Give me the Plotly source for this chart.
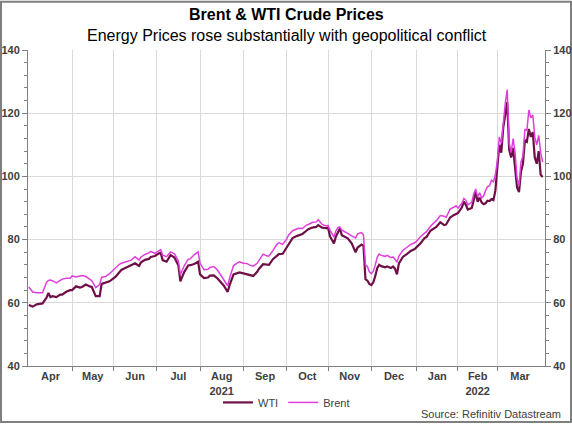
import numpy as np
import plotly.graph_objects as go

title = "Brent & WTI Crude Prices"
subtitle = "Energy Prices rose substantially with geopolitical conflict"
source = "Source: Refinitiv Datastream"

dates = [
    "2021-04-01", "2021-04-05", "2021-04-07", "2021-04-09", "2021-04-12", "2021-04-14", "2021-04-15", "2021-04-16",
    "2021-04-19", "2021-04-21", "2021-04-23", "2021-04-26", "2021-04-28", "2021-04-30", "2021-05-03", "2021-05-05",
    "2021-05-07", "2021-05-10", "2021-05-12", "2021-05-14", "2021-05-17", "2021-05-19", "2021-05-21", "2021-05-24",
    "2021-05-26", "2021-05-28", "2021-06-02", "2021-06-04", "2021-06-07", "2021-06-09", "2021-06-11", "2021-06-14",
    "2021-06-16", "2021-06-18", "2021-06-21", "2021-06-23", "2021-06-25", "2021-06-28", "2021-06-30", "2021-07-02",
    "2021-07-05", "2021-07-06", "2021-07-08", "2021-07-12", "2021-07-14", "2021-07-16", "2021-07-19", "2021-07-21",
    "2021-07-23", "2021-07-26", "2021-07-28", "2021-07-30", "2021-08-02", "2021-08-04", "2021-08-06", "2021-08-09",
    "2021-08-11", "2021-08-13", "2021-08-16", "2021-08-18", "2021-08-20", "2021-08-23", "2021-08-25", "2021-08-27",
    "2021-08-30", "2021-09-01", "2021-09-03", "2021-09-06", "2021-09-08", "2021-09-10", "2021-09-13", "2021-09-15",
    "2021-09-17", "2021-09-20", "2021-09-22", "2021-09-24", "2021-09-27", "2021-09-29", "2021-10-01", "2021-10-04",
    "2021-10-06", "2021-10-08", "2021-10-11", "2021-10-13", "2021-10-15", "2021-10-18", "2021-10-20", "2021-10-22",
    "2021-10-25", "2021-10-27", "2021-10-29", "2021-11-01", "2021-11-02", "2021-11-04", "2021-11-05", "2021-11-08",
    "2021-11-09", "2021-11-10", "2021-11-12", "2021-11-15", "2021-11-17", "2021-11-19", "2021-11-22", "2021-11-24",
    "2021-11-25", "2021-11-26", "2021-11-29", "2021-11-30", "2021-12-01", "2021-12-02", "2021-12-03", "2021-12-06",
    "2021-12-07", "2021-12-08", "2021-12-10", "2021-12-13", "2021-12-15", "2021-12-16", "2021-12-17", "2021-12-20",
    "2021-12-21", "2021-12-23", "2021-12-27", "2021-12-29", "2021-12-31", "2022-01-03", "2022-01-05", "2022-01-07",
    "2022-01-10", "2022-01-12", "2022-01-14", "2022-01-17", "2022-01-19", "2022-01-21", "2022-01-24", "2022-01-25",
    "2022-01-26", "2022-01-28", "2022-01-31", "2022-02-01", "2022-02-03", "2022-02-04", "2022-02-07", "2022-02-08",
    "2022-02-10", "2022-02-11", "2022-02-14", "2022-02-15", "2022-02-16", "2022-02-17", "2022-02-18", "2022-02-21",
    "2022-02-22", "2022-02-23", "2022-02-24", "2022-02-25", "2022-02-28", "2022-03-01", "2022-03-02", "2022-03-03",
    "2022-03-04", "2022-03-07", "2022-03-08", "2022-03-09", "2022-03-10", "2022-03-11", "2022-03-14", "2022-03-15",
    "2022-03-16", "2022-03-17", "2022-03-18", "2022-03-21", "2022-03-22", "2022-03-23", "2022-03-24", "2022-03-25",
    "2022-03-28", "2022-03-29", "2022-03-30", "2022-03-31", "2022-04-01",
]

brent = [
    65.0, 63.4, 63.2, 63.1, 63.2, 66.5, 67.1, 67.2,
    67.0, 66.3, 67.2, 67.5, 67.8, 67.8, 68.5, 68.2,
    68.5, 68.6, 68.3, 67.3, 67.0, 64.8, 65.8, 68.1,
    68.3, 69.2, 71.2, 72.2, 72.5, 73.0, 73.3, 73.5,
    74.6, 73.5, 74.5, 75.3, 75.8, 76.3, 75.6, 76.6,
    76.8, 75.1, 74.6, 76.1, 75.5, 73.2, 68.9, 71.8,
    73.8, 73.9, 75.2, 76.1, 72.5, 70.5, 70.6, 71.2,
    71.5, 70.2, 69.2, 67.5, 65.4, 67.8, 71.8, 72.6,
    73.0, 72.5, 72.4, 72.0, 71.6, 72.5, 73.5, 75.4,
    74.8, 74.8, 76.5, 78.5, 79.0, 78.5, 80.2, 81.5,
    82.8, 83.5, 83.6, 83.5, 84.6, 84.8, 85.4, 85.6,
    86.3, 84.8, 84.3, 84.5, 83.0, 80.8, 82.8, 83.8,
    84.0, 83.0, 82.4, 82.0, 81.2, 80.5, 81.8, 82.2,
    81.5, 72.0, 71.5, 69.8, 69.2, 70.0, 72.0, 74.5,
    75.4, 75.0, 74.7, 75.0, 74.3, 74.5, 73.8, 72.8,
    74.8, 76.6, 77.5, 78.5, 79.0, 79.5, 81.0, 82.0,
    82.5, 84.2, 85.3, 86.0, 87.6, 87.4, 87.0, 88.5,
    89.7, 90.3, 90.7, 90.0, 91.5, 93.0, 92.5, 91.0,
    91.8, 94.5, 96.0, 93.5, 94.8, 93.2, 93.8, 95.5,
    96.8, 97.0, 98.8, 98.3, 100.5, 105.0, 112.5, 110.5,
    118.0, 123.0, 127.5, 110.5, 107.5, 112.0, 107.5, 99.5,
    97.0, 104.5, 106.5, 115.0, 114.5, 121.0, 118.5, 119.5,
    112.5, 110.0, 113.0, 107.5, 104.5,
]

wti = [
    59.3, 58.8, 59.5, 59.7, 59.8, 61.6, 63.1, 61.8,
    62.1, 61.8, 62.6, 62.6, 63.5, 64.0, 64.0, 65.2,
    64.8, 65.0, 65.8, 65.2, 65.0, 62.1, 62.1, 66.0,
    66.5, 66.8, 68.2, 69.8, 70.4, 71.0, 71.6, 71.7,
    72.5, 71.7, 72.8, 73.6, 73.9, 74.5, 74.8, 75.6,
    75.8, 73.5, 73.0, 75.1, 74.3, 71.8, 66.8, 69.8,
    71.8, 71.9, 72.3, 73.0, 69.0, 67.8, 68.0, 68.6,
    68.7, 67.6, 66.9, 65.5, 63.4, 65.6, 69.0, 69.5,
    69.6, 69.3, 69.0, 68.9, 68.5, 69.8, 70.8, 72.2,
    72.0, 72.0, 73.8, 75.0, 75.4, 75.5, 77.5, 78.8,
    80.5, 81.1, 81.3, 81.8, 82.8, 83.3, 83.8, 84.0,
    84.6, 83.8, 83.6, 83.8, 81.0, 78.8, 81.0, 82.5,
    83.5, 81.4, 80.8, 80.4, 78.8, 76.0, 77.5, 78.4,
    78.0, 67.5, 67.0, 66.0, 65.6, 66.5, 68.5, 71.0,
    72.0, 71.6, 71.2, 71.5, 71.0, 71.5, 70.8, 69.0,
    72.5, 74.5, 75.4, 76.4, 77.0, 77.5, 78.8, 80.5,
    80.8, 82.8, 83.8, 84.0, 85.5, 84.6, 84.8, 86.0,
    87.0, 87.8, 88.2, 88.4, 90.2, 92.0, 91.0, 89.5,
    90.0, 93.0, 95.0, 92.0, 93.3, 91.8, 91.2, 91.5,
    92.3, 92.2, 92.8, 92.5, 95.5, 103.0, 110.0, 107.5,
    115.5, 119.5, 123.5, 108.5, 106.0, 109.0, 103.0, 96.5,
    95.0, 101.5, 104.0, 111.5, 111.0, 115.0, 112.5, 114.0,
    106.0, 104.0, 108.0, 100.5, 99.8,
]

month_labels = ["Apr", "May", "Jun", "Jul", "Aug<br>2021", "Sep", "Oct", "Nov", "Dec",
                "Jan", "Feb<br>2022", "Mar"]
month_firsts = ["2021-04-01", "2021-05-01", "2021-06-01", "2021-07-01", "2021-08-01", "2021-09-01",
                "2021-10-01", "2021-11-01", "2021-12-01", "2022-01-01", "2022-02-01", "2022-03-01",
                "2022-04-01"]

start = np.datetime64("2021-04-01")
d = np.array(dates, dtype="datetime64[D]")
x = np.busday_count(start, d)

mf = np.busday_offset(np.array(month_firsts, dtype="datetime64[D]"), 0, roll="forward")
mstart = np.busday_count(start, mf).astype(float)
mids = [(mstart[i] + mstart[i + 1]) / 2 for i in range(len(month_labels))]
grid_x = list(mstart[1:-1])

WTI_C = "#6E0F47"
BRENT_C = "#E03EDC"
FONT = "Arial, Liberation Sans, sans-serif"
TXT = "#404040"

fig = go.Figure()
fig.add_trace(go.Scatter(x=x, y=wti, name="WTI", mode="lines",
                         line=dict(color=WTI_C, width=2.2), yaxis="y"))
fig.add_trace(go.Scatter(x=x, y=brent, name="Brent", mode="lines",
                         line=dict(color=BRENT_C, width=1.5), yaxis="y2"))

L, R, T, B = 28, 27, 50, 58
W, H = 572, 429
pw, ph = W - L - R, H - T - B

def px(xp):
    return (xp - L) / pw

def py(yp):
    return (H - B - yp) / ph

yax = dict(range=[40, 140], dtick=20, tick0=40, showgrid=True, gridcolor="#d9d9d9", gridwidth=1,
           zeroline=False, showline=True, linecolor="#808080", linewidth=1,
           ticks="outside", ticklen=5, tickcolor="#808080",
           minor=dict(dtick=4, tick0=40, ticks="outside", ticklen=3, tickcolor="#808080", showgrid=False),
           tickfont=dict(family=FONT, size=11, color=TXT, weight="bold"),
           automargin=False, fixedrange=True)

fig.update_layout(
    width=W, height=H,
    margin=dict(l=L, r=R, t=T, b=B),
    paper_bgcolor="white", plot_bgcolor="white",
    showlegend=True,
    legend=dict(orientation="h", x=0.5, xanchor="center", y=py(408), yanchor="middle",
                font=dict(family=FONT, size=11, color=TXT), itemwidth=30,
                bgcolor="rgba(0,0,0,0)"),
    xaxis=dict(range=[-0.4, 262.2], tickmode="array", tickvals=mids, ticktext=month_labels,
               ticks="", showgrid=False, zeroline=False, showline=True, linecolor="#808080",
               linewidth=1, tickfont=dict(family=FONT, size=11, color=TXT, weight="bold"),
               minor=dict(tickmode="array", tickvals=grid_x, showgrid=True, gridcolor="#d9d9d9",
                          gridwidth=1, ticks="outside", ticklen=4, tickcolor="#808080"),
               automargin=False, fixedrange=True),
    yaxis=yax,
    yaxis2=dict(yax, overlaying="y", side="right", showgrid=False),
    annotations=[
        dict(text="<b>" + title.replace("&", "&amp;") + "</b>", x=0.5, y=py(14), xref="paper", yref="paper",
             xanchor="center", yanchor="middle", showarrow=False,
             font=dict(family=FONT, size=16, color="black")),
        dict(text=subtitle, x=0.5, y=py(35), xref="paper", yref="paper",
             xanchor="center", yanchor="middle", showarrow=False,
             font=dict(family=FONT, size=16, color="black")),
        dict(text=source, x=px(563), y=py(420), xref="paper", yref="paper",
             xanchor="right", yanchor="middle", showarrow=False,
             font=dict(family=FONT, size=11, color=TXT)),
    ],
    shapes=[dict(type="rect", xref="paper", yref="paper",
                 x0=px(1), x1=px(W - 1), y0=py(H - 1), y1=py(1),
                 line=dict(color="#7f7f7f", width=2), fillcolor="rgba(0,0,0,0)", layer="below")],
)

fig.write_html("out.html", config={"displayModeBar": False},
               post_script="document.body.style.margin='0px';document.body.style.overflow='hidden';")
